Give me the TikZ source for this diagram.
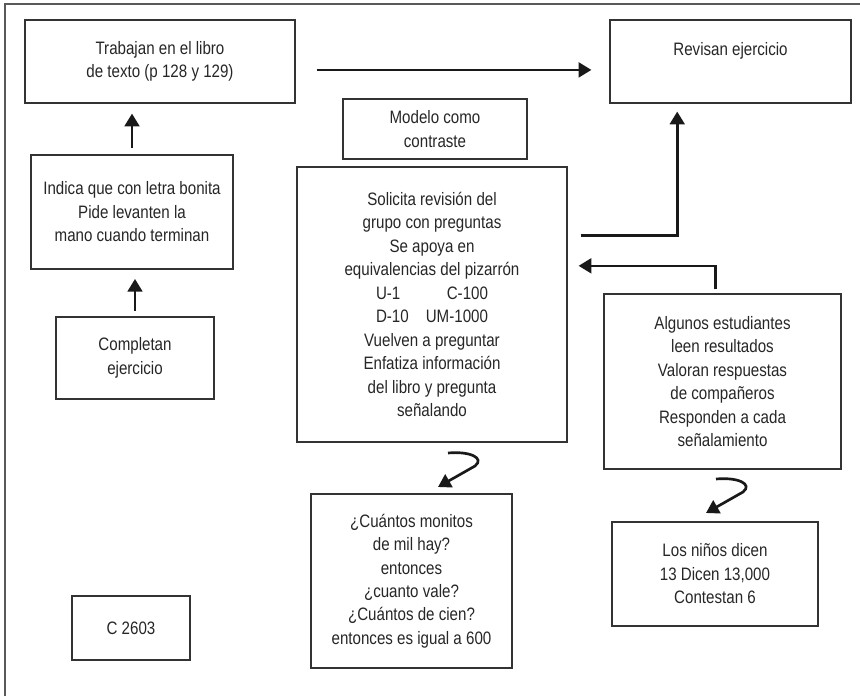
\documentclass[tikz,border=0pt]{standalone}
\usepackage{fontspec}
\setmainfont[FakeStretch=0.84]{Liberation Sans}
\usetikzlibrary{arrows.meta,calc}

\begin{document}
\begin{tikzpicture}[x=0.75pt,y=-0.75pt,>={Triangle[length=9.5pt,width=11pt]}]
\tikzset{
  box/.style={draw=black!80,line width=.9pt,align=center,text=black!85,font=\fontsize{13.5}{17.6}\selectfont,inner sep=0pt},
  arr/.style={->,draw=black!90,line width=2pt},
  frame/.style={draw=black!65,line width=1.1pt}
}
\useasboundingbox (0,0) rectangle (860,696);
\draw[frame] (5,696) -- (5,4) -- (860,4);
% top row
\node[box,minimum width=202.5pt,minimum height=62.25pt] (trab) at (160,61.5) {Trabajan en el libro\\de texto (p 128 y 129)};
\node[box,minimum width=180.75pt,minimum height=62.25pt,text depth=19pt] (rev) at (730.5,61.5) {Revisan ejercicio};
\node[box,minimum width=138pt,minimum height=45pt] (mod) at (435,129) {Modelo como\\contraste};
% left column
\node[box,minimum width=151.5pt,minimum height=85.5pt] (ind) at (132,212) {Indica que con letra bonita\\Pide levanten la\\mano cuando terminan};
\node[box,minimum width=118.5pt,minimum height=61.5pt] (comp) at (135,358) {Completan\\ejercicio};
\node[box,minimum width=88.5pt,minimum height=48pt] (c26) at (131,628) {C 2603};
% middle
\node[box,minimum width=202.5pt,minimum height=206.25pt] (sol) at (432,304.5) {Solicita revisión del\\grupo con preguntas\\Se apoya en\\equivalencias del pizarrón\\\makebox[84pt]{U-1\hfill C-100}\\\makebox[84pt]{D-10\hfill UM-1000}\\Vuelven a preguntar\\Enfatiza información\\del libro y pregunta\\señalando};
\node[box,minimum width=150.75pt,minimum height=130.5pt] (cua) at (411.5,581) {¿Cuántos monitos\\de mil hay?\\entonces\\¿cuanto vale?\\¿Cuántos de cien?\\entonces es igual a 600};
% right
\node[box,minimum width=177.75pt,minimum height=131.25pt] (alg) at (722.5,381.5) {Algunos estudiantes\\leen resultados\\Valoran respuestas\\de compañeros\\Responden a cada\\señalamiento};
\node[box,minimum width=154.5pt,minimum height=78pt] (nin) at (715,574) {Los niños dicen\\13 Dicen 13,000\\Contestan 6};
% arrows
\draw[arr,shorten <=15.75pt,shorten >=13.5pt] ($(trab.north east)!.6!(trab.south east)$) -- ($(rev.north west)!.6!(rev.south west)$);
\draw[arr,shorten <=4.5pt,shorten >=7.5pt] (ind.north) -- (ind.north |- trab.south);
\draw[arr,shorten <=4pt,shorten >=7pt] (comp.north) -- (comp.north |- ind.south);
\draw[arr,shorten <=9.75pt,shorten >=6pt] ($(sol.north east)!.25!(sol.south east)$) -| ($(rev.south west)!.28!(rev.south east)$);
\draw[arr,shorten <=3pt,shorten >=8.25pt] ($(alg.north west)!.47!(alg.north east)$) |- ($(sol.north east)!.36!(sol.south east)$);
% curly arrows
\coordinate (q1) at (448,453);
\coordinate (q2) at (716,479);
\draw[arr] (q1) .. controls +(22,-2) and +(10,-8) .. ++(27,13) -- ++(-37,21);
\draw[arr] (q2) .. controls +(22,-2) and +(10,-8) .. ++(27,13) -- ++(-37,21);
\end{tikzpicture}
\end{document}
